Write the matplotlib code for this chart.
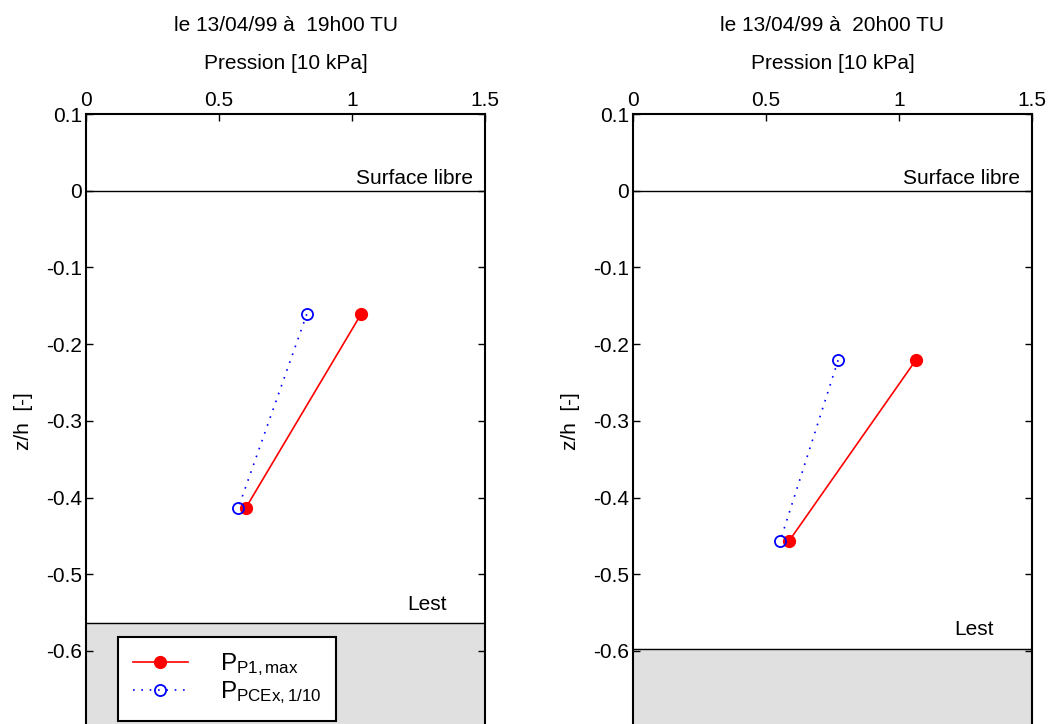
import numpy as np
import matplotlib
matplotlib.use("Agg")
from matplotlib import pyplot as plt

plt.rcParams['font.family'] = ['Liberation Sans', 'DejaVu Sans']
plt.rcParams['mathtext.fontset'] = 'custom'
plt.rcParams['mathtext.rm'] = 'Liberation Sans'
plt.rcParams['mathtext.it'] = 'Liberation Sans'

# data
titles = ["le 13/04/99 à  19h00 TU", "le 13/04/99 à  20h00 TU"]
z_points = [[-0.161, -0.414], [-0.221, -0.457]]
p_p1max = [[1.034, 0.600], [1.063, 0.586]]
p_pcex = [[0.830, 0.572], [0.771, 0.553]]
lest_level = [-0.564, -0.597]
xticks = [0, 0.5, 1, 1.5]
yticks = [0.1, 0, -0.1, -0.2, -0.3, -0.4, -0.5, -0.6]

fig = plt.figure(figsize=(10.5, 7.24), dpi=100)
W, H = 1050, 724
lefts = [86, 633]
fs = 15
for k in range(2):
    x0 = lefts[k]
    ax = fig.add_axes([x0 / W, (H - 727.6) / H, 399 / W, (727.6 - 114) / H])
    ax.set_xlim(0, 1.5)
    ax.set_ylim(-0.7, 0.1)

    # ballast zone
    ax.fill_between([0, 1.5], [-0.7, -0.7], [lest_level[k]] * 2,
                    color='#e0e0e0', zorder=0)
    ax.axhline(lest_level[k], color='black', lw=1, zorder=1)
    ax.axhline(0, color='black', lw=1, zorder=1)
    ax.text(1.455, 0.004, "Surface libre", ha='right', va='bottom', fontsize=fs)
    ax.text(1.357, lest_level[k] + 0.025, "Lest", ha='right', va='center', fontsize=fs)

    ax.plot(p_p1max[k], z_points[k], '-o', color='red', lw=1.2, ms=8.5,
            mfc='red', mec='red', label=r'P$_{\mathrm{P1,max}}$', zorder=3)
    ax.plot(p_pcex[k], z_points[k], color='blue', lw=1.2, ls=(0, (1, 4)),
            marker='o', ms=8, mfc='none', mec='blue', mew=1.3,
            label=r'P$_{\mathrm{PCEx,1/10}}$', zorder=3)

    ax.xaxis.tick_top()
    ax.xaxis.set_label_position('top')
    ax.set_xticks(xticks)
    ax.set_xticklabels(["0", "0.5", "1", "1.5"])
    ax.set_yticks(yticks)
    ax.set_yticklabels(["0.1", "0", "-0.1", "-0.2", "-0.3", "-0.4", "-0.5", "-0.6"])
    ax.tick_params(direction='in', length=5, width=1, labelsize=fs,
                   top=True, bottom=False, left=True, right=True, pad=3)
    for s in ax.spines.values():
        s.set_linewidth(1.5)
    ax.set_xlabel("Pression [10 kPa]", fontsize=fs, labelpad=16)
    ax.set_ylabel("z/h  [-]", fontsize=fs, labelpad=9)
    ax.set_title(titles[k], fontsize=fs, pad=60)

    if k == 0:
        leg = ax.legend(loc='lower left', bbox_to_anchor=(0.08, 0.011),
                        borderaxespad=0, fontsize=17.5, frameon=True, fancybox=False,
                        edgecolor='black', handlelength=2.3, handletextpad=1.3,
                        borderpad=0.6, labelspacing=0.05)
        leg.get_frame().set_linewidth(1.5)
        leg.get_frame().set_facecolor('white')
        leg.get_frame().set_alpha(1)

fig.savefig("out.png", dpi=100)
